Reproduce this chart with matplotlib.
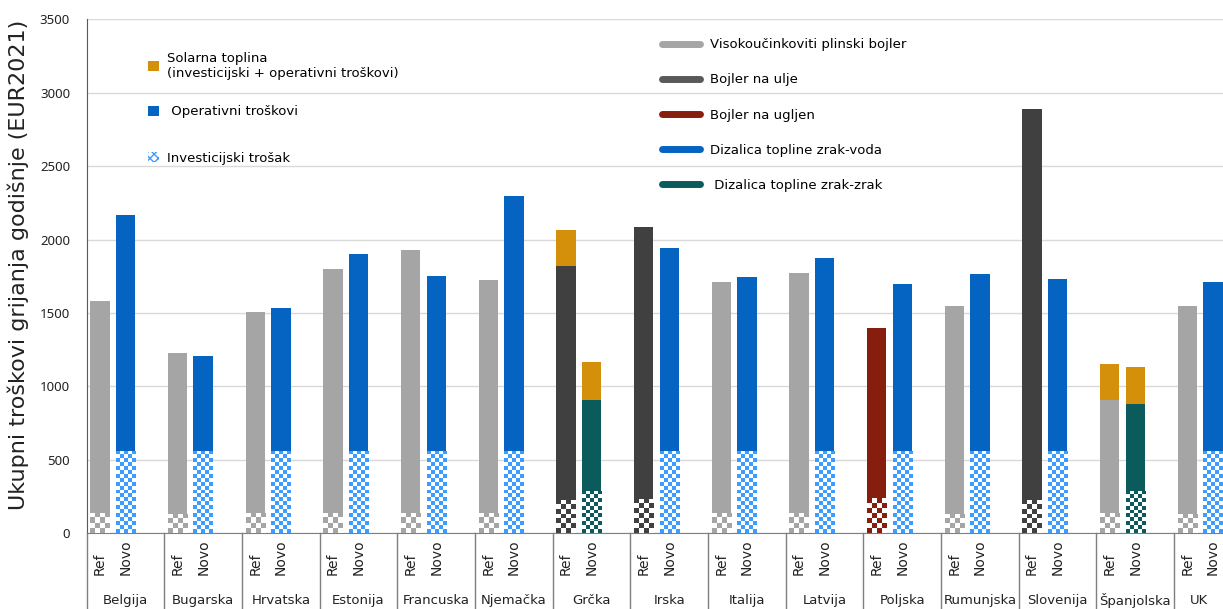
import numpy as np
import matplotlib
matplotlib.use("Agg")
import matplotlib.pyplot as plt
from matplotlib.colors import to_rgba
from matplotlib.patches import Patch
from matplotlib.lines import Line2D
from matplotlib.transforms import blended_transform_factory

countries = ["Belgija", "Bugarska", "Hrvatska", "Estonija", "Francuska", "Njemačka", "Grčka",
             "Irska", "Italija", "Latvija", "Poljska", "Rumunjska", "Slovenija", "Španjolska", "UK"]

# Ref = postojeci sustav, Novo = dizalica topline
ref_tech = ["gas", "gas", "gas", "gas", "gas", "gas", "oil", "oil", "gas", "gas",
            "coal", "gas", "oil", "gas", "gas"]
ref_inv = [140, 130, 140, 140, 140, 140, 225, 235, 140, 140, 238, 132, 230, 140, 130]
ref_op = [1440, 1100, 1370, 1662, 1788, 1582, 1595, 1850, 1570, 1635, 1162, 1416, 2657, 765, 1415]
ref_solar = [0, 0, 0, 0, 0, 0, 245, 0, 0, 0, 0, 0, 0, 245, 0]

new_tech = ["aw", "aw", "aw", "aw", "aw", "aw", "aa", "aw", "aw", "aw",
            "aw", "aw", "aw", "aa", "aw"]
new_inv = [560, 560, 560, 560, 560, 560, 290, 560, 560, 560, 560, 560, 560, 290, 560]
new_op = [1610, 650, 975, 1340, 1190, 1740, 620, 1385, 1185, 1315, 1135, 1206, 1170, 590, 1150]
new_solar = [0, 0, 0, 0, 0, 0, 255, 0, 0, 0, 0, 0, 0, 255, 0]

COLORS = {"gas": "#A5A5A5", "oil": "#404040", "coal": "#861D0D",
          "aw": "#0563C1", "aa": "#0B5A5C", "solar": "#D4900A"}
CHECK = {"gas": "#A5A5A5", "oil": "#404040", "coal": "#861D0D",
         "aw": "#3D9CFF", "aa": "#0B5A5C"}

W, H = 1223, 609
fig = plt.figure(figsize=(W / 100, H / 100), dpi=100)
ax = fig.add_axes([86.7 / W, 75.7 / H, 1136.3 / W, 514 / H])
XMAX = 14.63
ax.set_xlim(0, XMAX)
ax.set_ylim(0, 3500)

bw = 0.25
x = np.arange(len(countries))
ref_x = x + 0.17
new_x = x + 0.5


def checker(bar, color, cell):
    x0, y0 = bar.get_x(), bar.get_y()
    w, h = bar.get_width(), bar.get_height()
    p0 = ax.transData.transform((x0, y0))
    p1 = ax.transData.transform((x0 + w, y0 + h))
    nx = max(1, int(round((p1[0] - p0[0]) / cell)))
    ny = max(1, int(round((p1[1] - p0[1]) / cell)))
    ii, jj = np.indices((ny, nx))
    img = np.ones((ny, nx, 4))
    img[(ii + jj) % 2 == 0] = to_rgba(color)
    im = ax.imshow(img, extent=(x0, x0 + w, y0, y0 + h), origin="lower",
                   interpolation="nearest", aspect="auto", zorder=3)
    im.set_clip_path(bar)


def stack(xs, tech, inv, op, solar, cell):
    for i in range(len(xs)):
        b = ax.bar(xs[i], inv[i], bw, color="white", zorder=2)[0]
        checker(b, CHECK[tech[i]], cell)
        ax.bar(xs[i], op[i], bw, bottom=inv[i], color=COLORS[tech[i]], zorder=3)
        if solar[i] > 0:
            ax.bar(xs[i], solar[i], bw, bottom=inv[i] + op[i], color=COLORS["solar"], zorder=3)


stack(ref_x, ref_tech, ref_inv, ref_op, ref_solar, 5)
stack(new_x, new_tech, new_inv, new_op, new_solar, 4)

ax.set_xlim(0, XMAX)
ax.set_ylim(0, 3500)

# osi i mreza
ax.set_yticks(np.arange(0, 3501, 500))
ax.yaxis.grid(True, color="#D9D9D9", lw=1)
ax.set_axisbelow(True)
ax.set_xticks([])
ax.tick_params(axis="y", length=0, pad=12, labelsize=9.5, labelcolor="#222222")
for lab in ax.get_yticklabels():
    lab.set_family("Noto Sans")
for s in ["top", "right"]:
    ax.spines[s].set_visible(False)
ax.spines["left"].set_color("#595959")
ax.spines["bottom"].set_color("#7F7F7F")

ax.set_ylabel("Ukupni troškovi grijanja godišnje (EUR2021)", fontsize=16,
              family="DejaVu Sans", color="#222222")
ax.yaxis.set_label_coords(-0.0505, 0.522)

# kategorije ispod osi
tr = blended_transform_factory(ax.transData, ax.transAxes)
for i in range(len(countries) + 1):
    ax.plot([i, i], [0, -0.2], transform=tr, color="#7F7F7F", lw=1, clip_on=False)
for i, c in enumerate(countries):
    ax.text(ref_x[i], -0.081, "Ref", rotation=90, ha="center", va="bottom",
            transform=tr, fontsize=10, color="#222222")
    ax.text(new_x[i], -0.081, "Novo", rotation=90, ha="center", va="bottom",
            transform=tr, fontsize=10, color="#222222")
    cx = (i + min(i + 1, XMAX)) / 2
    ax.text(cx, -0.13, c, ha="center", va="center", transform=tr,
            fontsize=9.5, color="#222222")

# legende
h1 = [Patch(facecolor=COLORS["solar"]), Patch(facecolor=COLORS["aw"])]
l1 = ["Solarna toplina\n(investicijski + operativni troškovi)", " Operativni troškovi"]
leg1 = ax.legend(h1, l1, loc="upper left", bbox_to_anchor=(0.054, 0.937), frameon=False,
                 fontsize=9.5, handlelength=0.8, handleheight=0.8, handletextpad=0.6,
                 labelspacing=1.95, borderpad=0, borderaxespad=0)
ax.add_artist(leg1)

h3 = [Patch(facecolor="white", edgecolor="#3D9CFF", hatch="xxxx", lw=0)]
leg3 = ax.legend(h3, ["Investicijski trošak"], loc="upper left", bbox_to_anchor=(0.054, 0.742),
                 frameon=False, fontsize=9.5, handlelength=0.8, handleheight=0.8,
                 handletextpad=0.6, borderpad=0, borderaxespad=0)
ax.add_artist(leg3)

h2 = [Line2D([], [], color=COLORS["gas"], lw=5, solid_capstyle="round"),
      Line2D([], [], color="#595959", lw=5, solid_capstyle="round"),
      Line2D([], [], color=COLORS["coal"], lw=5, solid_capstyle="round"),
      Line2D([], [], color=COLORS["aw"], lw=5, solid_capstyle="round"),
      Line2D([], [], color=COLORS["aa"], lw=5, solid_capstyle="round")]
l2 = ["Visokoučinkoviti plinski bojler", "Bojler na ulje", "Bojler na ugljen",
      "Dizalica topline zrak-voda", " Dizalica topline zrak-zrak"]
ax.legend(h2, l2, loc="upper left", bbox_to_anchor=(0.506, 0.963), frameon=False,
          fontsize=9.5, handlelength=2.9, handletextpad=0.8, labelspacing=1.68,
          borderpad=0, borderaxespad=0)

fig.savefig("out.png", dpi=100)
